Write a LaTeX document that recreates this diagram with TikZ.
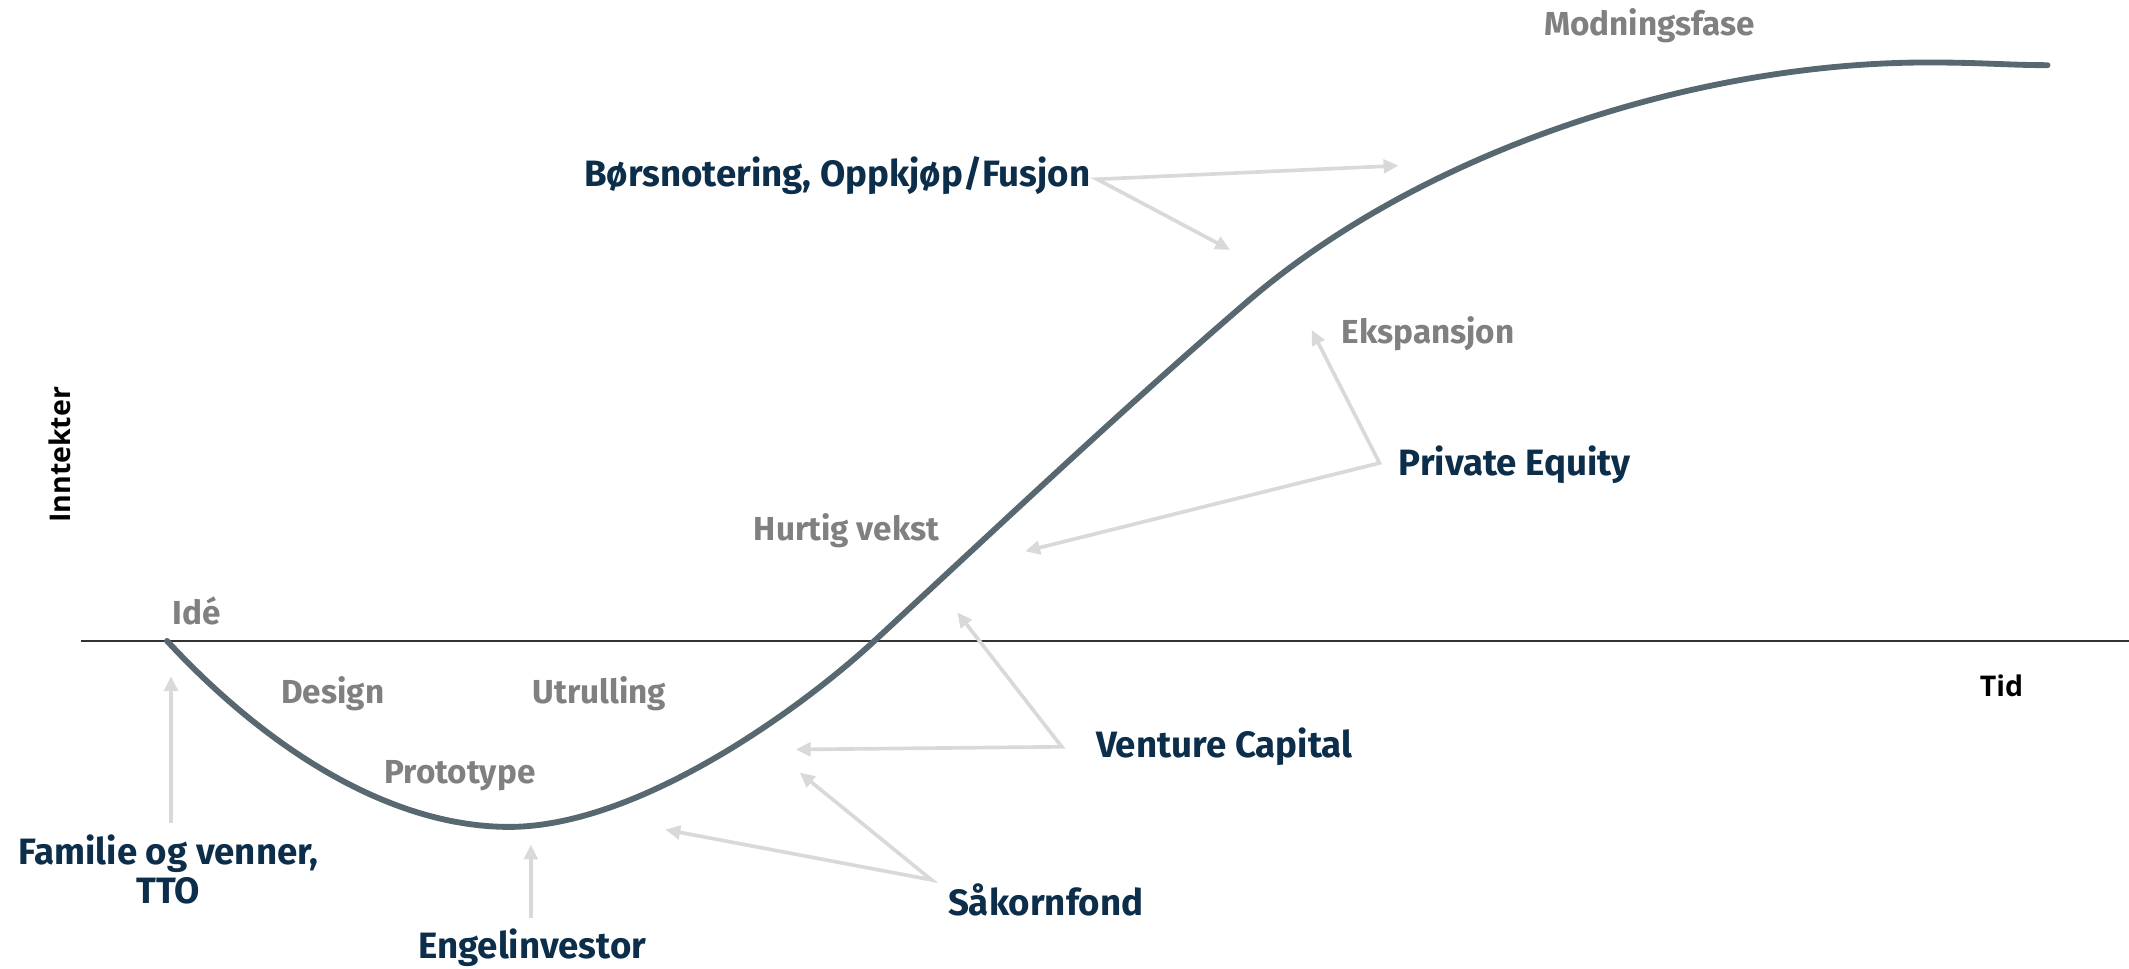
\documentclass[tikz,border=0pt]{standalone}
\usepackage{fontspec}
\setmainfont{Fira Sans}
\newfontfamily\axisfont{Open Sans}
\usetikzlibrary{arrows.meta}
\definecolor{navy}{RGB}{12,46,74}
\definecolor{phasegray}{RGB}{128,128,128}
\definecolor{curvegray}{RGB}{88,104,112}
\definecolor{arrowgray}{RGB}{217,217,217}
\definecolor{axisdark}{RGB}{50,50,50}
\tikzset{
  navylbl/.style={font=\bfseries\fontsize{27}{28.5}\selectfont, text=navy, inner sep=0pt, anchor=base west},
  phaselbl/.style={font=\bfseries\fontsize{24.5}{26}\selectfont, text=phasegray, inner sep=0pt, anchor=base west},
  axislbl/.style={font=\axisfont\bfseries\fontsize{21}{24}\selectfont, text=black, inner sep=0pt},
  pointer/.style={draw=arrowgray, line width=2.7pt, -{Triangle[length=11pt,width=10pt]}},
  twopointer/.style={draw=arrowgray, line width=2.7pt, line join=miter, {Triangle[length=11pt,width=10pt]}-{Triangle[length=11pt,width=10pt]}},
  curveline/.style={draw=curvegray, line width=4.3pt, line cap=round},
  axisline/.style={draw=axisdark, line width=1.4pt}
}
\begin{document}
\begin{tikzpicture}[x=1pt,y=-1pt]
\useasboundingbox (0,0) rectangle (1568,713);
% axis
\coordinate (ax0) at (60,472);
\coordinate (ax1) at (1568,472);
\draw[axisline] (ax0) -- (ax1);
% curve
\coordinate (idea) at (123,472);
\coordinate (bottom) at (375,609);
\coordinate (cross) at (644,472);
\coordinate (mid) at (920,221);
\coordinate (top) at (1420,46);
\coordinate (cend) at (1508,48);
\draw[curveline] (idea) .. controls (200,555) and (290,609) .. (bottom)
  .. controls (470,609) and (590,522) .. (cross)
  .. controls (736,387) and (828,300) .. (mid)
  .. controls (1050,110) and (1250,46) .. (top)
  .. controls (1460,46) and (1480,48) .. (cend);
% labels
\node[phaselbl] (modning) at (1137,26) {Modningsfase};
\node[navylbl] (bors) at (430,137) {Børsnotering, Oppkjøp/Fusjon};
\node[phaselbl] (ekspansjon) at (988,253) {Ekspansjon};
\node[navylbl] (pe) at (1030,350) {Private Equity};
\node[phaselbl] (hurtig) at (555,398) {Hurtig vekst};
\node[phaselbl] (ide) at (127,460) {Idé};
\node[phaselbl] (design) at (207,518) {Design};
\node[phaselbl] (utrulling) at (392,518) {Utrulling};
\node[phaselbl] (prototype) at (283,577) {Prototype};
\node[navylbl] (vc) at (807,558) {Venture Capital};
\node[navylbl] (sakorn) at (698,674) {Såkornfond};
\node[navylbl, anchor=base] (engel) at (392,706) {Engelinvestor};
\node[navylbl, anchor=base, align=center] (familie) at (124,665.5) {Familie og venner,\\TTO};
\node[axislbl, rotate=90, anchor=south] (inntekter) at (52,335) {Inntekter};
\node[axislbl, anchor=base west] (tid) at (1458,513) {Tid};
% pointers
\coordinate (borsO) at (808,132);
\coordinate (borsA) at (1030,122);
\coordinate (borsB) at (906,184);
\draw[twopointer] (borsA) -- (borsO) -- (borsB);
\coordinate (peO) at (1016,341);
\coordinate (peA) at (966,243);
\coordinate (peB) at (755,406);
\draw[twopointer] (peA) -- (peO) -- (peB);
\coordinate (vcO) at (782,550);
\coordinate (vcA) at (705,451);
\coordinate (vcB) at (586,552);
\draw[twopointer] (vcA) -- (vcO) -- (vcB);
\coordinate (skO) at (686,648);
\coordinate (skA) at (589,569);
\coordinate (skB) at (490,611);
\draw[twopointer] (skA) -- (skO) -- (skB);
\coordinate (famO) at (126,606);
\coordinate (famA) at (126,498);
\draw[pointer] (famO) -- (famA);
\coordinate (engO) at (391,676);
\coordinate (engA) at (391,622);
\draw[pointer] (engO) -- (engA);
\end{tikzpicture}
\end{document}
